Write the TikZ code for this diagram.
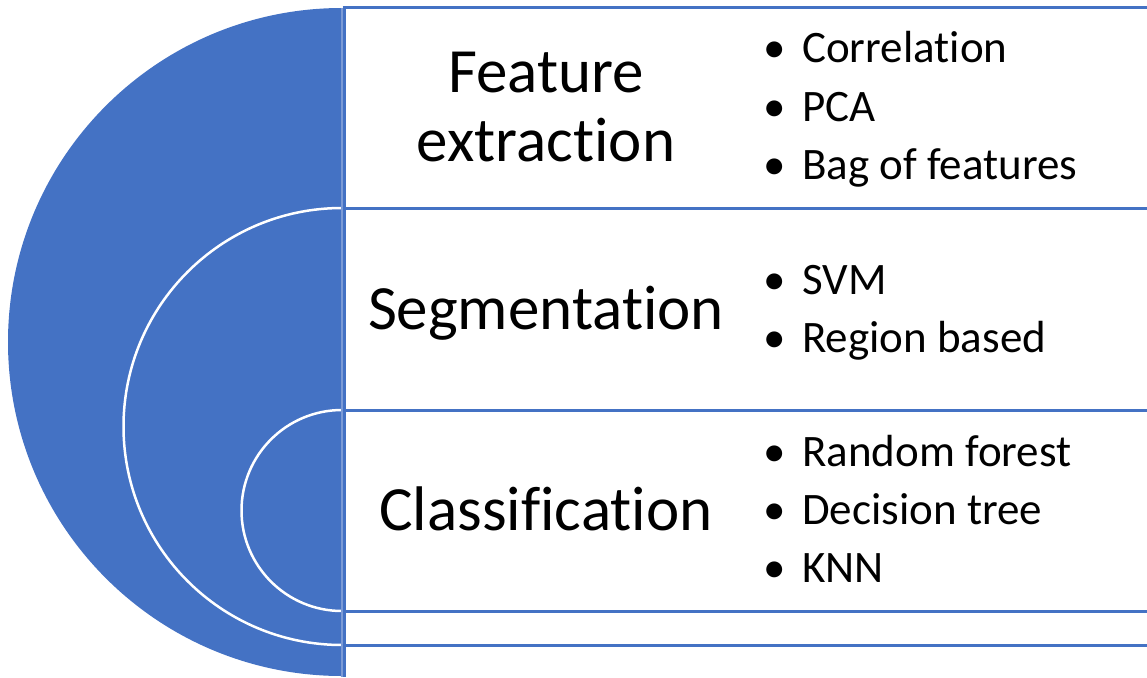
\documentclass[tikz,border=0pt]{standalone}
\usepackage{fontspec}
\setmainfont[RawFeature=-liga,RawFeature=-clig,RawFeature=-dlig,RawFeature=-calt]{Carlito}
\definecolor{office}{HTML}{4472C4}
\definecolor{officelt}{HTML}{7C9BD6}

\begin{document}
\begin{tikzpicture}[x=1pt,y=-1pt,
  title/.style={font=\fontsize{63}{69}\selectfont,align=center,inner sep=0pt},
  item/.style={font=\fontsize{45}{52}\selectfont,anchor=base west,inner sep=0pt},
  rule/.style={office,line width=3pt}]
\def\cx{342}
\useasboundingbox (0,0) rectangle (1147,677);
% ---- big half disc with the nested white arcs ----
\fill[office] (\cx,8) arc[start angle=270,end angle=90,radius=334] -- cycle;
\draw[white,line width=2.5pt] (\cx,208) arc[start angle=270,end angle=90,radius=218.5];
\draw[white,line width=2.5pt] (\cx,410) arc[start angle=270,end angle=90,radius=100.5];
% ---- stacked boxes: left edge and horizontal rules ----
\draw[officelt,line width=1.5pt] (\cx,8) -- (\cx,677);
\draw[rule] (344,7.5) -- (344,677);
\foreach \y in {7.5,208,410,611,645}{
  \draw[rule] (342.5,\y) -- (1147,\y);
}
% ---- titles ----
\node[title] (fe) at (546,107) {Feature\\extraction};
\node[title,anchor=base] (seg) at (546,329) {Segmentation};
\node[title,anchor=base] (cls) at (546,530) {Classification};
% ---- bullet lists ----
\foreach \t [count=\i] in {Correlation,PCA,Bag of features}
  \node[item] (fe\i) at (802,{63+58*(\i-1)}) {\llap{\textbullet\hspace{16pt}}\t};
\foreach \t [count=\i] in {SVM,Region based}
  \node[item] (seg\i) at (802,{294+58*(\i-1)}) {\llap{\textbullet\hspace{16pt}}\t};
\foreach \t [count=\i] in {Random forest,Decision tree,KNN}
  \node[item] (cls\i) at (802,{466+58*(\i-1)}) {\llap{\textbullet\hspace{16pt}}\t};
\end{tikzpicture}
\end{document}
